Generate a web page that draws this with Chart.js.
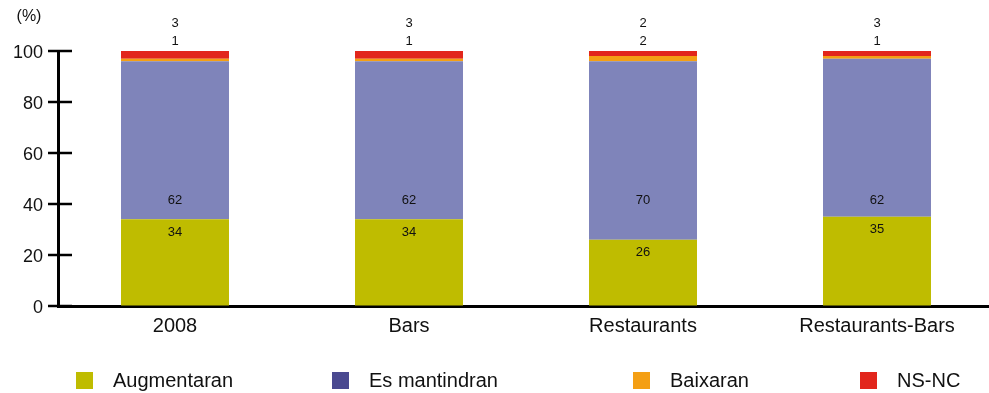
<!DOCTYPE html>
<html>
<head>
<meta charset="utf-8">
<script src="https://cdn.jsdelivr.net/npm/chart.js@4/dist/chart.umd.min.js"></script>
<style>
  html, body { margin: 0; padding: 0; background: #fff; overflow: hidden; }
  canvas { display: block; }
</style>
</head>
<body>
<canvas id="chart" width="994" height="393"></canvas>
<script>
// data
var categories = ['2008', 'Bars', 'Restaurants', 'Restaurants-Bars'];
var augmentaran = [34, 34, 26, 35];
var esMantindran = [62, 62, 70, 62];
var baixaran = [1, 1, 2, 1];
var nsnc = [3, 3, 2, 3];
var yTicks = [0, 20, 40, 60, 80, 100];

var FONT = '"Liberation Sans", Arial, Helvetica, sans-serif';
var legendX = [76, 332, 633, 860];
var legendColors = ['#bfbc00', '#4a4990', '#f49f14', '#e2261c'];

var ctx = document.getElementById('chart');

// tick crosses on the y axis, segment labels, top labels, legend
var extras = {
    id: 'extras',
    afterDatasetsDraw: function (chart) {
        var c = chart.ctx;
        var y = chart.scales.y;
        var area = chart.chartArea;

        c.save();
        c.strokeStyle = '#000';
        c.lineWidth = 2.5;
        yTicks.forEach(function (v) {
            var py = y.getPixelForValue(v);
            c.beginPath();
            c.moveTo(area.left - 10, py);
            c.lineTo(area.left + 14, py);
            c.stroke();
        });

        c.fillStyle = '#111';
        c.textAlign = 'center';
        c.textBaseline = 'middle';
        c.font = '16px ' + FONT;
        c.fillText('(%)', 29, 17);

        c.font = '13px ' + FONT;
        var m0 = chart.getDatasetMeta(0), m3 = chart.getDatasetMeta(3);
        categories.forEach(function (cat, i) {
            var x = m0.data[i].x;
            c.fillText(augmentaran[i], x, m0.data[i].y + 13);
            c.fillText(esMantindran[i], x, y.getPixelForValue(41.5));
            var top = Math.max(m3.data[i].y, area.top);
            c.fillText(baixaran[i], x, top - 10);
            c.fillText(nsnc[i], x, top - 27.5);
        });

        c.font = '20px ' + FONT;
        c.textAlign = 'left';
        chart.data.datasets.forEach(function (ds, i) {
            c.fillStyle = legendColors[i];
            c.fillRect(legendX[i], 372, 17, 17);
            c.fillStyle = '#111';
            c.fillText(ds.label, legendX[i] + 37, 381);
        });
        c.restore();
    }
};

new Chart(ctx, {
    type: 'bar',
    data: {
        labels: categories,
        datasets: [
            { label: 'Augmentaran', data: augmentaran, backgroundColor: '#bfbc00' },
            { label: 'Es mantindran', data: esMantindran, backgroundColor: '#7f84ba' },
            { label: 'Baixaran', data: baixaran, backgroundColor: '#f49f14' },
            { label: 'NS-NC', data: nsnc, backgroundColor: '#e2261c' }
        ]
    },
    options: {
        responsive: false,
        animation: false,
        barPercentage: 0.4615,
        categoryPercentage: 1,
        layout: { padding: { top: 51, left: 0, right: 0, bottom: 0 } },
        plugins: {
            legend: { display: false },
            tooltip: { enabled: false }
        },
        scales: {
            x: {
                stacked: true,
                grid: { display: false, drawTicks: false },
                border: { display: true, color: '#000', width: 3 },
                ticks: { color: '#111', padding: 8, font: { family: FONT, size: 20 } },
                afterFit: function (s) { s.height = 87; }
            },
            y: {
                stacked: true,
                min: 0,
                max: 100,
                grid: { color: 'rgba(0,0,0,0)', drawOnChartArea: false, drawTicks: true, tickLength: 10 },
                border: { display: true, color: '#000', width: 3 },
                ticks: { stepSize: 20, color: '#111', padding: 5, labelOffset: 2, font: { family: FONT, size: 18 } },
                afterFit: function (s) { s.width = 58; }
            }
        }
    },
    plugins: [extras]
});
</script>
</body>
</html>
